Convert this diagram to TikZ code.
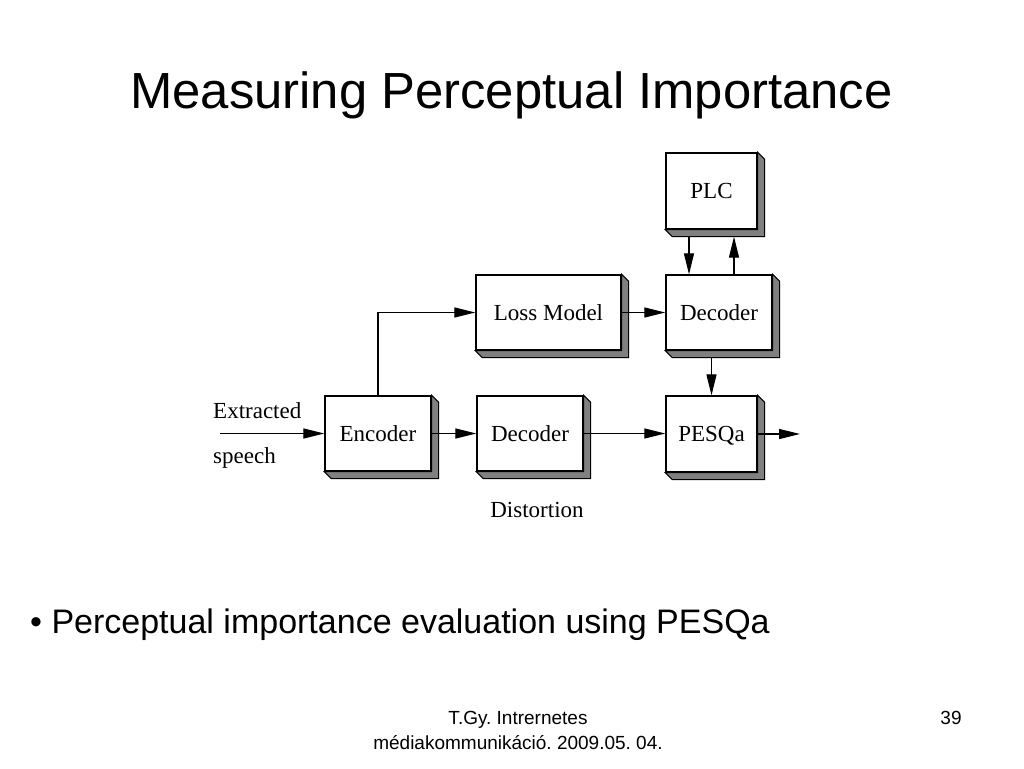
\documentclass[tikz,border=0pt]{standalone}
\usepackage{fontspec}
\setmainfont{Liberation Serif}
\newfontfamily\slidefont{Liberation Sans}
\usetikzlibrary{arrows.meta}
\frenchspacing
\newcommand\boxshadow[1]{%
  \filldraw[shadowfill] (#1.north east) -- ++(7,7) -- ([shift={(7,7)}]#1.south east)
    -- ([shift={(7,7)}]#1.south west) -- (#1.south west) -- (#1.south east) -- cycle;}
\begin{document}
\frenchspacing
\begin{tikzpicture}[x=1pt,y=-1pt,
  box/.style={draw=black, line width=1.3pt, fill=white, inner sep=0pt, text depth=0pt,
    font=\fontsize{23}{26}\selectfont},
  conn/.style={line width=1.2pt, -{Triangle[length=21pt,width=10pt]}},
  lbl/.style={font=\fontsize{23}{26}\selectfont, inner sep=0pt},
  shadowfill/.style={fill=black!50, draw=black, line width=1.1pt, line join=miter},
  slide/.style={font=\slidefont, inner sep=0pt}]
\useasboundingbox (0,0) rectangle (1024,768);
\fill[white] (0,0) rectangle (1024,768);

% slide texts
\node[slide, font=\slidefont\fontsize{50.8}{60}\selectfont, anchor=base] (title) at (511.5,108) {Measuring Perceptual Importance};
\node[slide, font=\slidefont\fontsize{34}{40}\selectfont, anchor=base west] (bullet) at (30,633) {• Perceptual importance evaluation using PESQa};
\node[slide, font=\slidefont\fontsize{19}{25}\selectfont, align=center] (footer) at (518,730) {T.Gy. Intrernetes\\médiakommunikáció. 2009.05. 04.};
\node[slide, font=\slidefont\fontsize{19}{25}\selectfont] (page) at (951,718) {39};

% boxes
\node[box, minimum width=91pt, minimum height=76pt] (plc) at (711.5,191) {PLC};
\node[box, minimum width=145pt, minimum height=75pt] (loss) at (548.5,312.5) {Loss Model};
\node[box, minimum width=106pt, minimum height=75pt] (dec1) at (719,312.5) {Decoder};
\node[box, minimum width=106pt, minimum height=75pt] (enc) at (378,433.5) {Encoder};
\node[box, minimum width=106pt, minimum height=75pt] (dec2) at (530,433.5) {Decoder};
\node[box, minimum width=91pt, minimum height=76pt] (pesq) at (711.5,434) {PESQa};
\boxshadow{plc}
\boxshadow{loss}
\boxshadow{dec1}
\boxshadow{enc}
\boxshadow{dec2}
\boxshadow{pesq}

% labels
\node[lbl, anchor=base west] (ext) at (213,418) {Extracted};
\node[lbl, anchor=base west] (sp) at (213,463) {speech};
\node[lbl, anchor=base] (dist) at (537,517) {Distortion};

% connectors
\coordinate (in) at (220,433.5);
\coordinate (out) at (800,434);
\draw[conn] (in) -- (enc.west);
\draw[conn] (enc.east) -- (dec2.west);
\draw[conn] (dec2.east) -- (dec2.east -| pesq.west);
\draw[conn] (pesq.east) -- (out);
\draw[conn] (enc.north) |- (loss.west);
\draw[conn] (loss.east) -- (dec1.west);
\draw[conn] ([shift={(-22.5,7)}]plc.south) -- ([xshift=-22.5pt]plc.south |- dec1.north);
\draw[conn] ([xshift=22.5pt]plc.south |- dec1.north) -- ([shift={(22.5,7)}]plc.south);
\draw[conn] ([yshift=-7pt]dec1.south -| pesq.north) -- (pesq.north);
\end{tikzpicture}
\end{document}
